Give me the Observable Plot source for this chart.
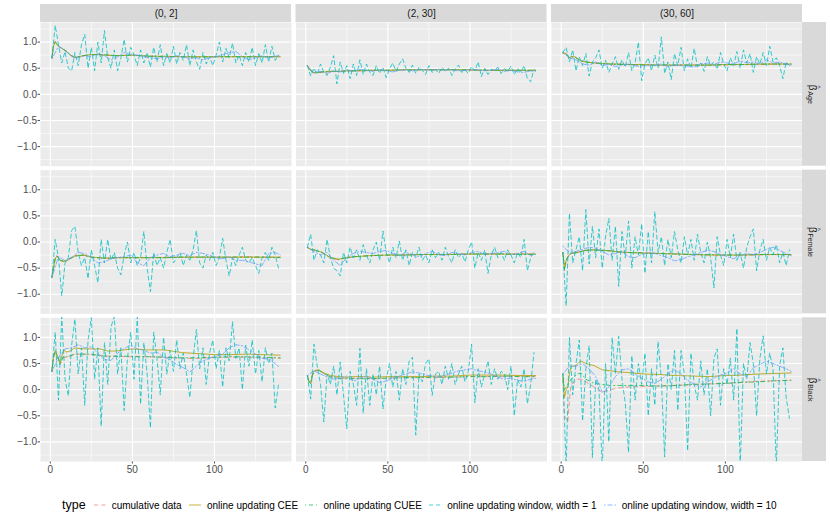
<!DOCTYPE html>
<html><head><meta charset="utf-8">
<script src="https://cdn.jsdelivr.net/npm/d3@7"></script>
<script src="https://cdn.jsdelivr.net/npm/@observablehq/plot@0.6"></script>
<style>
body{margin:0;background:#fff;font-family:"Liberation Sans",Arial,sans-serif;}
#wrap{position:relative;width:830px;height:519px;overflow:hidden;}
#chart{position:absolute;left:0;top:0;}
#legend{position:absolute;left:0;top:495px;width:830px;height:20px;display:flex;align-items:center;padding-left:62px;box-sizing:border-box;color:#000;}
#legend .ltitle{font-size:12.5px;margin-right:8px;}
#legend .item{display:flex;align-items:center;margin-right:7.3px;font-size:10px;white-space:nowrap;}
#legend .item svg{margin-right:6px;}
</style></head>
<body><div id="wrap"><div id="chart"></div><div id="legend"></div></div>
<script>
const intervals = ["(0, 2]", "(2, 30]", "(30, 60]"];
const coefs = ["Age", "Female", "Black"];
const types = ["cumulative data", "online updating CEE", "online updating CUEE",
  "online updating window, width = 1", "online updating window, width = 10"];
const xTicks = [0, 50, 100];
const xMinor = [25, 75, 125];
const yTicks = [-1, -0.5, 0, 0.5, 1];
const yMinor = [-1.25, -0.75, -0.25, 0.25, 0.75, 1.25];

const xSmooth = [1,2,3,4,5,6,8,10,12,15,20,25,30,35,40,50,60,70,80,90,100,110,120,130,140];
const xWin10 = [1,5,9,13,17,21,25,29,33,37,41,45,49,53,57,61,65,69,73,77,81,85,89,93,97,101,105,109,113,117,121,125,129,133,137,140];
const xWin1 = [1,3,5,7,9,11,13,15,17,19,
  21,23,25,27,29,31,33,35,37,39,
  41,43,45,47,49,51,53,55,57,59,
  61,63,65,67,69,71,73,75,77,79,
  81,83,85,87,89,91,93,95,97,99,
  101,103,105,107,109,111,113,115,117,119,
  121,123,125,127,129,131,133,135,137,139];

// ---- Age ----
const cumAge1 = [0.70,0.95,1.02,0.98,0.93,0.90,0.86,0.81,0.75,0.70,0.74,0.76,0.76,0.75,0.74,0.75,0.73,0.72,0.72,0.72,0.72,0.72,0.72,0.72,0.72];
const ceeAge1 = [0.70,0.93,1.00,0.97,0.92,0.90,0.86,0.82,0.76,0.70,0.74,0.76,0.76,0.75,0.74,0.75,0.73,0.73,0.72,0.72,0.72,0.72,0.72,0.72,0.72];
const cueeAge1 = [0.70,0.92,0.99,0.96,0.92,0.90,0.86,0.82,0.76,0.71,0.74,0.76,0.76,0.75,0.74,0.75,0.73,0.72,0.72,0.71,0.72,0.72,0.72,0.72,0.72];
const w10Age1 = [0.68,0.92,0.85,0.72,0.70,0.74,0.72,0.78,0.74,0.66,0.72,0.80,0.77,0.75,0.72,0.70,0.68,0.72,0.70,0.74,0.72,0.68,0.70,0.66,0.70,0.72,0.76,0.80,0.82,0.72,0.66,0.70,0.74,0.70,0.73,0.74];
const w1Age1 = [0.70,1.32,0.95,0.60,0.82,0.50,0.45,0.80,0.55,0.95,
  1.15,0.50,0.90,0.45,1.00,0.60,1.22,0.70,0.50,0.85,
  0.45,0.70,1.05,0.62,0.90,0.75,0.55,0.85,0.60,0.80,
  0.52,0.90,0.62,0.95,0.55,0.78,0.60,0.92,0.58,0.80,
  0.65,0.95,0.55,0.85,0.62,0.48,0.80,0.58,0.72,0.55,
  0.75,1.00,0.62,0.88,0.70,0.98,0.60,0.75,0.55,0.80,
  0.62,0.90,0.55,0.78,0.60,0.95,0.62,0.92,0.65,0.75];

const cumAge2 = [0.55,0.50,0.46,0.43,0.41,0.41,0.42,0.42,0.43,0.43,0.44,0.44,0.45,0.45,0.46,0.46,0.47,0.47,0.47,0.47,0.46,0.46,0.46,0.46,0.45];
const ceeAge2 = [0.55,0.50,0.46,0.43,0.41,0.42,0.42,0.43,0.43,0.44,0.44,0.45,0.45,0.45,0.46,0.46,0.47,0.47,0.47,0.47,0.47,0.46,0.46,0.46,0.46];
const cueeAge2 = [0.54,0.49,0.45,0.43,0.41,0.42,0.42,0.43,0.43,0.44,0.44,0.45,0.45,0.46,0.46,0.46,0.47,0.47,0.47,0.47,0.47,0.46,0.46,0.46,0.46];
const w10Age2 = [0.54,0.42,0.44,0.40,0.45,0.43,0.47,0.44,0.48,0.46,0.44,0.47,0.45,0.43,0.46,0.47,0.45,0.48,0.47,0.46,0.48,0.46,0.47,0.45,0.46,0.48,0.47,0.45,0.46,0.48,0.44,0.46,0.43,0.42,0.45,0.44];
const w1Age2 = [0.55,0.35,0.50,0.38,0.58,0.42,0.36,0.52,0.74,0.20,
  0.62,0.40,0.55,0.30,0.58,0.36,0.66,0.38,0.58,0.42,
  0.36,0.55,0.40,0.52,0.32,0.48,0.60,0.44,0.58,0.68,
  0.50,0.42,0.56,0.40,0.52,0.46,0.38,0.55,0.42,0.48,
  0.40,0.52,0.44,0.50,0.36,0.48,0.56,0.42,0.47,0.40,
  0.53,0.45,0.62,0.34,0.50,0.38,0.48,0.46,0.52,0.40,
  0.49,0.44,0.54,0.38,0.50,0.42,0.55,0.30,0.24,0.48];

const cumAge3 = [0.80,0.79,0.78,0.74,0.70,0.72,0.73,0.68,0.64,0.62,0.60,0.59,0.58,0.58,0.57,0.56,0.56,0.56,0.56,0.56,0.56,0.57,0.57,0.58,0.58];
const ceeAge3 = [0.80,0.78,0.78,0.74,0.70,0.72,0.72,0.68,0.64,0.62,0.60,0.59,0.58,0.58,0.57,0.57,0.56,0.56,0.56,0.56,0.57,0.57,0.58,0.58,0.58];
const cueeAge3 = [0.79,0.78,0.77,0.74,0.70,0.71,0.72,0.68,0.64,0.62,0.60,0.59,0.58,0.57,0.57,0.56,0.56,0.56,0.56,0.56,0.57,0.57,0.58,0.58,0.58];
const w10Age3 = [0.80,0.70,0.66,0.58,0.56,0.62,0.55,0.58,0.53,0.56,0.58,0.55,0.52,0.57,0.55,0.58,0.53,0.56,0.55,0.54,0.52,0.58,0.60,0.57,0.62,0.60,0.58,0.64,0.60,0.62,0.58,0.66,0.60,0.62,0.58,0.56];
const w1Age3 = [0.80,0.90,0.62,0.85,0.45,0.72,0.55,0.78,0.35,0.62,
  0.70,0.85,0.50,0.65,0.42,0.58,0.72,0.48,0.66,0.52,
  0.80,0.45,0.60,1.00,0.26,0.58,0.70,0.45,0.75,0.50,
  1.10,0.40,0.62,0.28,0.78,0.55,0.90,0.45,0.68,0.50,
  0.88,0.52,0.60,0.44,0.72,0.55,0.62,0.48,0.80,0.58,
  0.45,0.70,0.55,0.82,0.50,0.85,0.60,0.78,0.42,0.72,
  0.58,0.80,0.55,0.92,0.62,0.70,0.55,0.30,0.62,0.55];

// ---- Female ----
const cumFem1 = [-0.68,-0.50,-0.31,-0.26,-0.30,-0.35,-0.37,-0.36,-0.31,-0.26,-0.25,-0.29,-0.30,-0.31,-0.30,-0.30,-0.30,-0.29,-0.29,-0.29,-0.29,-0.29,-0.28,-0.29,-0.29];
const ceeFem1 = [-0.68,-0.50,-0.32,-0.27,-0.30,-0.35,-0.37,-0.36,-0.32,-0.27,-0.25,-0.29,-0.30,-0.31,-0.30,-0.30,-0.30,-0.30,-0.29,-0.29,-0.29,-0.29,-0.29,-0.29,-0.29];
const cueeFem1 = [-0.67,-0.49,-0.32,-0.27,-0.31,-0.35,-0.37,-0.35,-0.32,-0.27,-0.25,-0.29,-0.31,-0.31,-0.30,-0.30,-0.30,-0.30,-0.29,-0.29,-0.29,-0.29,-0.29,-0.29,-0.30];
const w10Fem1 = [-0.68,-0.28,-0.36,-0.30,-0.20,-0.22,-0.30,-0.40,-0.38,-0.32,-0.30,-0.28,-0.25,-0.40,-0.45,-0.30,-0.25,-0.22,-0.28,-0.25,-0.22,-0.26,-0.20,-0.22,-0.25,-0.30,-0.32,-0.28,-0.36,-0.35,-0.38,-0.42,-0.45,-0.22,-0.20,-0.25];
const w1Fem1 = [-0.68,0.05,-0.30,-1.03,-0.40,-0.30,0.22,0.30,-0.20,-0.45,
  -0.30,-0.70,-0.15,-0.45,-0.78,0.05,-0.40,0.05,-0.35,-0.20,
  -0.50,-0.63,-0.25,0.00,-0.40,-0.20,-0.45,-0.30,0.20,-0.50,
  -0.95,-0.20,-0.45,-0.30,-0.50,-0.20,0.05,-0.40,-0.30,-0.20,
  -0.45,-0.25,-0.35,-0.15,0.22,-0.40,-0.50,-0.25,-0.35,-0.20,
  -0.45,-0.30,0.07,-0.35,-0.65,-0.30,-0.45,-0.25,-0.10,-0.35,
  -0.40,-0.30,-0.45,-0.60,-0.30,-0.20,-0.35,-0.10,-0.25,-0.50];

const cumFem2 = [-0.10,-0.12,-0.14,-0.15,-0.15,-0.16,-0.18,-0.20,-0.24,-0.31,-0.34,-0.30,-0.28,-0.27,-0.26,-0.25,-0.25,-0.24,-0.24,-0.23,-0.23,-0.23,-0.23,-0.23,-0.23];
const ceeFem2 = [-0.10,-0.12,-0.14,-0.15,-0.15,-0.16,-0.18,-0.20,-0.24,-0.30,-0.33,-0.30,-0.28,-0.27,-0.26,-0.25,-0.25,-0.24,-0.24,-0.24,-0.23,-0.23,-0.23,-0.23,-0.23];
const cueeFem2 = [-0.11,-0.12,-0.14,-0.15,-0.15,-0.16,-0.18,-0.20,-0.24,-0.30,-0.33,-0.30,-0.28,-0.27,-0.26,-0.25,-0.25,-0.24,-0.24,-0.24,-0.23,-0.23,-0.23,-0.24,-0.24];
const w10Fem2 = [-0.10,-0.18,-0.25,-0.20,-0.35,-0.45,-0.30,-0.22,-0.18,-0.20,-0.22,-0.18,-0.16,-0.22,-0.26,-0.20,-0.24,-0.28,-0.22,-0.18,-0.24,-0.26,-0.20,-0.22,-0.25,-0.20,-0.18,-0.24,-0.22,-0.20,-0.18,-0.24,-0.22,-0.18,-0.26,-0.22];
const w1Fem2 = [-0.10,0.15,-0.35,-0.15,-0.25,-0.40,0.05,-0.30,-0.50,-0.55,
  -0.65,-0.20,-0.40,-0.10,-0.30,-0.15,-0.35,-0.05,-0.25,-0.40,
  -0.15,0.00,-0.35,0.21,-0.20,-0.40,-0.10,-0.30,0.02,-0.35,
  -0.15,-0.45,-0.20,-0.30,-0.10,-0.35,-0.25,-0.40,-0.15,-0.30,
  -0.20,-0.35,-0.10,-0.28,-0.40,-0.15,-0.30,-0.22,-0.38,-0.15,
  0.00,-0.50,-0.20,-0.35,-0.15,-0.60,-0.25,-0.10,-0.30,-0.20,
  -0.35,-0.15,-0.25,-0.40,-0.20,-0.30,0.05,-0.55,-0.30,-0.20];

const cumFem3 = [-0.20,-0.55,-0.38,-0.30,-0.25,-0.22,-0.21,-0.20,-0.18,-0.16,-0.15,-0.16,-0.17,-0.19,-0.20,-0.21,-0.22,-0.23,-0.24,-0.25,-0.25,-0.25,-0.25,-0.24,-0.25];
const ceeFem3 = [-0.20,-0.50,-0.35,-0.28,-0.24,-0.22,-0.21,-0.20,-0.18,-0.16,-0.15,-0.16,-0.17,-0.19,-0.20,-0.21,-0.22,-0.23,-0.24,-0.25,-0.25,-0.25,-0.24,-0.24,-0.24];
const cueeFem3 = [-0.20,-0.52,-0.36,-0.29,-0.24,-0.22,-0.21,-0.20,-0.18,-0.16,-0.15,-0.16,-0.17,-0.19,-0.20,-0.21,-0.22,-0.23,-0.24,-0.24,-0.25,-0.25,-0.24,-0.24,-0.24];
const w10Fem3 = [-0.08,-0.20,-0.18,-0.14,-0.10,-0.12,-0.18,-0.25,-0.22,-0.18,-0.28,-0.30,-0.24,-0.20,-0.22,-0.26,-0.30,-0.36,-0.34,-0.28,-0.25,-0.20,-0.16,-0.18,-0.24,-0.28,-0.32,-0.26,-0.22,-0.24,-0.20,-0.14,-0.10,-0.16,-0.22,-0.26];
const w1Fem3 = [-0.20,-1.22,0.55,-0.40,-0.15,0.10,-0.55,0.62,-0.42,0.30,
  -0.30,0.25,-0.50,0.10,0.45,-0.35,0.30,-0.85,0.20,-0.30,
  0.40,-0.50,0.10,-0.25,0.35,-0.60,0.20,-0.40,0.58,-0.20,
  0.10,-0.45,0.05,-0.30,0.20,-0.15,-0.40,0.10,-0.25,0.05,
  -0.35,0.15,-0.20,-0.40,0.00,-0.30,-0.88,0.10,-0.25,-0.45,
  0.05,-0.30,0.15,-0.35,-0.20,-0.50,-0.10,0.10,0.25,-0.55,
  -0.15,0.05,-0.35,-0.10,-0.25,-0.05,-0.40,-0.20,-0.45,-0.15];

// ---- Black ----
const cumBla1 = [0.35,0.62,0.70,0.65,0.58,0.48,0.62,0.62,0.64,0.68,0.68,0.67,0.66,0.64,0.64,0.63,0.63,0.62,0.60,0.60,0.62,0.62,0.62,0.61,0.60];
const ceeBla1 = [0.35,0.65,0.75,0.68,0.58,0.50,0.76,0.72,0.74,0.80,0.78,0.78,0.78,0.74,0.74,0.78,0.76,0.76,0.71,0.69,0.67,0.67,0.68,0.67,0.66];
const cueeBla1 = [0.35,0.63,0.72,0.66,0.58,0.49,0.64,0.63,0.65,0.68,0.68,0.68,0.65,0.64,0.64,0.64,0.63,0.62,0.61,0.61,0.62,0.63,0.63,0.62,0.61];
const w10Bla1 = [0.35,0.62,0.78,0.80,0.86,0.80,0.82,0.70,0.58,0.56,0.70,0.78,0.86,0.78,0.75,0.70,0.72,0.62,0.58,0.48,0.42,0.34,0.45,0.55,0.60,0.64,0.68,0.80,0.86,0.84,0.76,0.68,0.60,0.58,0.50,0.42];
const w1Bla1 = [0.35,1.10,-0.20,1.40,0.20,-0.12,0.85,1.35,0.30,0.80,
  -0.30,0.95,1.38,0.20,0.80,-0.70,0.90,0.10,1.20,1.40,
  0.30,0.80,-0.40,0.60,1.10,0.20,1.40,-0.28,0.90,0.30,
  -0.73,1.10,0.60,-0.10,1.00,0.30,0.75,0.35,0.95,0.40,
  0.70,0.30,-0.15,0.60,1.15,0.40,0.80,0.10,0.70,0.95,
  0.40,0.75,0.05,0.80,0.55,1.30,0.60,0.80,0.00,0.85,
  0.45,0.95,0.30,0.75,0.15,0.80,0.50,0.70,-0.35,0.10];

const cumBla2 = [0.27,0.15,0.12,0.27,0.34,0.36,0.37,0.33,0.29,0.25,0.22,0.22,0.22,0.22,0.21,0.22,0.23,0.23,0.23,0.24,0.25,0.25,0.25,0.25,0.25];
const ceeBla2 = [0.27,0.15,0.12,0.28,0.35,0.37,0.38,0.34,0.31,0.27,0.25,0.24,0.25,0.25,0.24,0.25,0.25,0.25,0.26,0.26,0.28,0.28,0.28,0.27,0.27];
const cueeBla2 = [0.27,0.15,0.12,0.27,0.34,0.36,0.37,0.33,0.29,0.24,0.21,0.21,0.21,0.21,0.21,0.22,0.23,0.23,0.24,0.24,0.25,0.25,0.26,0.25,0.25];
const w10Bla2 = [0.27,0.36,0.30,0.24,0.20,0.22,0.26,0.16,0.22,0.26,0.20,0.14,0.16,0.22,0.26,0.30,0.34,0.32,0.28,0.26,0.24,0.28,0.32,0.36,0.38,0.40,0.36,0.34,0.30,0.24,0.20,0.22,0.18,0.16,0.20,0.22];
const w1Bla2 = [0.27,-0.18,0.87,0.45,0.10,-0.62,0.30,0.10,0.45,-0.10,
  0.53,-0.10,-0.75,0.35,0.10,-0.30,0.79,-0.45,0.40,-0.30,
  0.30,-0.10,0.45,-0.37,0.20,0.50,0.05,0.35,-0.20,0.40,
  0.10,0.55,0.62,-0.87,0.30,0.15,0.50,0.59,-0.11,0.30,
  0.35,0.10,0.45,0.20,0.50,0.10,0.30,0.45,0.15,0.35,
  0.87,-0.25,0.40,0.05,0.30,0.55,0.10,0.40,0.20,0.35,
  0.30,0.00,0.45,-0.50,0.20,0.05,0.40,-0.27,0.10,0.71];

const cumBla3 = [0.20,-0.50,-0.55,-0.62,-0.20,0.10,0.15,0.20,0.20,0.15,0.05,-0.05,0.00,0.03,0.05,0.06,0.07,0.08,0.10,0.11,0.12,0.14,0.16,0.17,0.18];
const ceeBla3 = [0.30,-0.15,0.00,0.05,0.30,0.45,0.45,0.50,0.55,0.50,0.46,0.38,0.36,0.34,0.33,0.30,0.29,0.27,0.26,0.25,0.27,0.28,0.30,0.31,0.32];
const cueeBla3 = [0.30,0.00,0.05,0.10,0.15,0.20,0.25,0.30,0.32,0.20,0.12,0.10,0.08,0.08,0.08,0.08,0.07,0.08,0.10,0.11,0.12,0.14,0.15,0.17,0.18];
const w10Bla3 = [0.30,0.45,0.45,0.50,0.40,0.25,-0.05,0.05,0.25,0.38,0.40,0.30,0.22,0.15,0.12,0.20,0.30,0.38,0.30,0.18,0.10,0.05,0.15,0.22,0.28,0.32,0.40,0.30,0.25,0.42,0.48,0.55,0.50,0.45,0.40,0.35];
const w1Bla3 = [0.30,-1.50,1.00,-0.10,0.50,0.95,-0.60,0.40,0.84,-1.30,
  0.20,0.00,-1.50,0.50,-1.00,1.00,0.30,1.02,0.20,-0.25,
  -1.20,0.65,-0.20,0.50,0.10,0.70,-0.50,0.40,-0.30,0.92,
  0.20,-1.29,0.50,0.00,0.75,-0.40,0.75,0.30,-1.17,0.70,
  0.10,-0.20,0.55,-0.10,0.40,-0.50,0.60,0.78,-0.30,0.40,
  0.10,0.60,-0.20,1.17,-1.50,0.50,0.20,0.90,0.50,-0.50,
  0.60,1.03,0.30,0.70,0.40,-1.50,0.45,0.80,-0.15,-0.55];

const colors = ["#F8766D", "#B79F00", "#00BA38", "#00BFC4", "#619CFF"];
const dashes = ["4,3.5", null, "1,3,4,3", "4,3", "1.5,2,5,2"];
const widths = [0.85, 0.95, 0.85, 0.9, 0.85];

// long-format table built from the named arrays
const series = [
  [0, "(0, 2]", "Age", xSmooth, cumAge1], [1, "(0, 2]", "Age", xSmooth, ceeAge1], [2, "(0, 2]", "Age", xSmooth, cueeAge1], [3, "(0, 2]", "Age", xWin1, w1Age1], [4, "(0, 2]", "Age", xWin10, w10Age1],
  [0, "(2, 30]", "Age", xSmooth, cumAge2], [1, "(2, 30]", "Age", xSmooth, ceeAge2], [2, "(2, 30]", "Age", xSmooth, cueeAge2], [3, "(2, 30]", "Age", xWin1, w1Age2], [4, "(2, 30]", "Age", xWin10, w10Age2],
  [0, "(30, 60]", "Age", xSmooth, cumAge3], [1, "(30, 60]", "Age", xSmooth, ceeAge3], [2, "(30, 60]", "Age", xSmooth, cueeAge3], [3, "(30, 60]", "Age", xWin1, w1Age3], [4, "(30, 60]", "Age", xWin10, w10Age3],
  [0, "(0, 2]", "Female", xSmooth, cumFem1], [1, "(0, 2]", "Female", xSmooth, ceeFem1], [2, "(0, 2]", "Female", xSmooth, cueeFem1], [3, "(0, 2]", "Female", xWin1, w1Fem1], [4, "(0, 2]", "Female", xWin10, w10Fem1],
  [0, "(2, 30]", "Female", xSmooth, cumFem2], [1, "(2, 30]", "Female", xSmooth, ceeFem2], [2, "(2, 30]", "Female", xSmooth, cueeFem2], [3, "(2, 30]", "Female", xWin1, w1Fem2], [4, "(2, 30]", "Female", xWin10, w10Fem2],
  [0, "(30, 60]", "Female", xSmooth, cumFem3], [1, "(30, 60]", "Female", xSmooth, ceeFem3], [2, "(30, 60]", "Female", xSmooth, cueeFem3], [3, "(30, 60]", "Female", xWin1, w1Fem3], [4, "(30, 60]", "Female", xWin10, w10Fem3],
  [0, "(0, 2]", "Black", xSmooth, cumBla1], [1, "(0, 2]", "Black", xSmooth, ceeBla1], [2, "(0, 2]", "Black", xSmooth, cueeBla1], [3, "(0, 2]", "Black", xWin1, w1Bla1], [4, "(0, 2]", "Black", xWin10, w10Bla1],
  [0, "(2, 30]", "Black", xSmooth, cumBla2], [1, "(2, 30]", "Black", xSmooth, ceeBla2], [2, "(2, 30]", "Black", xSmooth, cueeBla2], [3, "(2, 30]", "Black", xWin1, w1Bla2], [4, "(2, 30]", "Black", xWin10, w10Bla2],
  [0, "(30, 60]", "Black", xSmooth, cumBla3], [1, "(30, 60]", "Black", xSmooth, ceeBla3], [2, "(30, 60]", "Black", xSmooth, cueeBla3], [3, "(30, 60]", "Black", xWin1, w1Bla3], [4, "(30, 60]", "Black", xWin10, w10Bla3]
];
const rows = [];
for (const [t, iv, cf, xs, ys] of series) {
  const n = Math.min(xs.length, ys.length);
  for (let i = 0; i < n; i++) rows.push({type: types[t], interval: iv, coef: cf, x: xs[i], y: ys[i]});
}

// layout
const W = 830, H = 480, mL = 40, mR = 28, mT = 22, mB = 19;
const pX = 0.0173, pY = 0.027;
const bandX = (W - mL - mR) / (3 - pX) * (1 - pX);
const bandY = (H - mT - mB) / (3 - pY) * (1 - pY);

const fmt = d => (d < 0 ? "\u2212" : "") + Math.abs(d).toFixed(1);

const ctx = document.createElement("canvas").getContext("2d");
ctx.font = "7px 'Liberation Sans'";
const subW = s => ctx.measureText(s).width;

const lineMarks = types.map((t, i) => Plot.line(rows.filter(r => r.type === t), {
  x: "x", y: "y", fx: "interval", fy: "coef", z: d => d.interval + d.coef,
  stroke: colors[i], strokeWidth: widths[i], strokeOpacity: 0.88,
  strokeDasharray: dashes[i] || undefined, clip: true
}));

const stripLabelMarks = coefs.flatMap(c => {
  const L = 6.5 + subW(c);
  return [
    Plot.text([c], {fx: () => "(30, 60]", fy: d => d, text: () => "\u03B2", frameAnchor: "right",
      dx: 10, dy: -L / 2, rotate: 90, textAnchor: "start", fontSize: 10, fill: "#1A1A1A"}),
    Plot.text([c], {fx: () => "(30, 60]", fy: d => d, text: () => "^", frameAnchor: "right",
      dx: 15.5, dy: -L / 2 + 0.6, rotate: 90, textAnchor: "start", fontSize: 6.5, fill: "#1A1A1A"}),
    Plot.text([c], {fx: () => "(30, 60]", fy: d => d, text: d => d, frameAnchor: "right",
      dx: 7.5, dy: -L / 2 + 6.5, rotate: 90, textAnchor: "start", fontSize: 7, fill: "#1A1A1A"})
  ];
});

const chart = Plot.plot({
  width: W, height: H,
  marginLeft: mL, marginRight: mR, marginTop: mT, marginBottom: mB,
  style: {fontFamily: "'Liberation Sans', Arial, sans-serif", fontSize: "10px", color: "#4D4D4D", background: "white"},
  fx: {domain: intervals, axis: null, paddingInner: pX, paddingOuter: 0, round: false},
  fy: {domain: coefs, axis: null, paddingInner: pY, paddingOuter: 0, round: false},
  x: {domain: [-5.95, 146.95], ticks: xTicks, tickSize: 2.5, tickPadding: 1.5, label: null},
  y: {domain: [-1.375, 1.375], ticks: yTicks, tickFormat: fmt, tickSize: 2.5, tickPadding: 1, label: null},
  marks: [
    Plot.frame({fill: "#EBEBEB", stroke: null}),
    Plot.ruleX(xMinor, {stroke: "white", strokeWidth: 0.55}),
    Plot.ruleY(yMinor, {stroke: "white", strokeWidth: 0.55}),
    Plot.ruleX(xTicks, {stroke: "white", strokeWidth: 1.1}),
    Plot.ruleY(yTicks, {stroke: "white", strokeWidth: 1.1}),
    ...lineMarks,
    Plot.rect(intervals, {fx: d => d, fy: () => "Age", fill: "#D9D9D9", insetTop: -18, insetBottom: bandY}),
    Plot.text(intervals, {fx: d => d, fy: () => "Age", text: d => d, frameAnchor: "top", dy: -9,
      lineAnchor: "middle", fontSize: 10, fill: "#1A1A1A"}),
    Plot.rect(coefs, {fx: () => "(30, 60]", fy: d => d, fill: "#D9D9D9", insetLeft: bandX, insetRight: -24}),
    ...stripLabelMarks
  ]
});
document.getElementById("chart").appendChild(chart);

// legend
const legend = d3.select("#legend");
legend.append("span").attr("class", "ltitle").text("type");
types.forEach((t, i) => {
  const item = legend.append("span").attr("class", "item");
  const s = item.append("svg").attr("width", 12).attr("height", 10);
  const ln = s.append("line").attr("x1", 0).attr("x2", 12).attr("y1", 5).attr("y2", 5)
    .attr("stroke", colors[i]).attr("stroke-width", 1.1).attr("stroke-opacity", 0.7);
  if (dashes[i]) ln.attr("stroke-dasharray", dashes[i]);
  item.append("span").text(t);
});
</script></body></html>
